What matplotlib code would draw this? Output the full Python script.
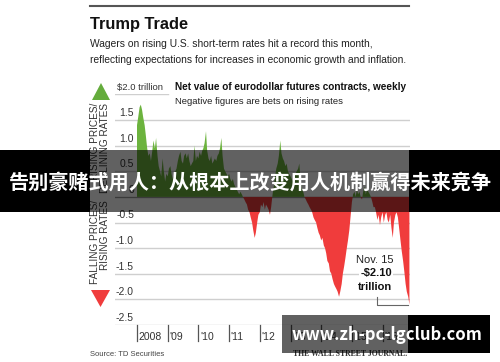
import numpy as np
import pandas as pd
import matplotlib
matplotlib.use('Agg')
import matplotlib.pyplot as plt
import matplotlib.dates as mdates
import matplotlib.transforms as mtransforms
from matplotlib.patches import Polygon, Rectangle
from matplotlib.lines import Line2D

plt.rcParams['font.family'] = ['Liberation Sans', 'DejaVu Sans']

# net value of eurodollar futures contracts, $ trillion (1st/15th of month)
y2008 = [1.4, 1.55, 1.75, 1.8, 1.7, 1.55, 1.4, 1.2, 0.95, 0.8, 0.85, 0.7,
         0.9, 1.1, 0.95, 1.15, 0.8, 0.6, 0.5, 0.4, 0.75, 0.5, 0.3, 0.45]
y2009 = [0.4, 0.55, 0.6, 0.45, 0.35, 0.4, 0.5, 0.55, 0.7, 0.8, 0.88, 0.7,
         0.65, 0.8, 0.85, 0.75, 0.85, 0.7, 0.6, 0.65, 0.7, 1.0, 0.7, 0.8]
y2010 = [0.75, 0.88, 0.8, 0.9, 0.95, 1.05, 1.28, 0.9, 0.75, 0.7, 0.8, 0.65,
         0.7, 0.75, 0.7, 0.8, 0.85, 0.95, 1.15, 0.8, 0.55, 0.5, 0.45, 0.4]
y2011 = [0.45, 0.35, 0.3, 0.35, 0.25, 0.2, 0.15, 0.1, 0.05, 0.1, 0.05, 0.0,
         -0.05, -0.1, -0.15, -0.25, -0.3, -0.4, -0.5, -0.65, -0.8, -0.7, -0.5, -0.35]
y2012 = [-0.3, -0.15, -0.2, -0.1, -0.25, -0.15, -0.2, -0.25, -0.35, -0.2, 0.05, 0.2,
         0.4, 0.55, 0.65, 0.8, 1.1, 0.85, 0.75, 0.7, 0.6, 0.65, 0.5, 0.45]
y2013 = [0.4, 0.35, 0.3, 0.4, 0.45, 0.5, 0.55, 0.65, 0.3, 0.15, 0.1, 0.0,
         -0.05, -0.1, -0.15, -0.2, -0.25, -0.3, -0.4, -0.45, -0.5, -0.6, -0.7, -0.75]
y2014 = [-0.85, -0.8, -0.95, -1.0, -1.1, -1.25, -1.3, -1.45, -1.5, -1.6, -1.7, -1.75,
         -1.8, -1.85, -1.95, -1.85, -1.7, -1.5, -1.35, -1.2, -1.0, -0.85, -0.65, -0.4]
y2015 = [-0.1, 0.05, 0.1, 0.0, 0.15, 0.05, 0.1, 0.0, -0.05, 0.1, 0.2, 0.05,
         0.15, 0.1, 0.05, 0.0, -0.1, -0.2, -0.2, -0.3, -0.45, -0.35, -0.55, -0.4]
y2016 = [-0.3, -0.5, -0.35, -0.3, -0.45, -0.5, -0.35, -0.6, -0.8, -0.5, -0.35,
         -0.3, -0.4, -0.6, -0.85, -1.05, -1.25, -1.45, -1.7, -1.85, -1.95, -2.1]

year_labels = ['2008', "'09", "'10", "'11", "'12", "'13", "'14", "'15", "'16"]
ytick_vals = [1.5, 1.0, 0.5, 0, -0.5, -1.0, -1.5, -2.0, -2.5]
ytick_labels = ['1.5', '1.0', '0.5', '0', '-0.5', '-1.0', '-1.5', '-2.0', '-2.5']

values = np.array(y2008 + y2009 + y2010 + y2011 + y2012 + y2013 + y2014 + y2015 + y2016)
dates = pd.date_range('2008-01-01', '2016-11-15', freq='SMS')
xs = mdates.date2num(dates.to_pydatetime())

GREEN = '#6cb33e'
RED = '#f03c3c'
GRID = '#cfcfcf'

W, H = 500, 362
def fx(x):
    return x / W
def fy(y):
    return 1 - y / H

fig = plt.figure(figsize=(5.0, 3.62), dpi=100)

# chart area
ax = fig.add_axes([fx(115), fy(325), fx(410) - fx(115), fy(94.4) - fy(325)])
px_per_year = 30.7
x0 = mdates.date2num(pd.Timestamp('2008-01-01'))
ax.set_xlim(x0 - 22 / px_per_year * 365.25, x0 + 273 / px_per_year * 365.25)
ax.set_ylim(-2.5, 2.0)
ax.axis('off')

for v in ytick_vals:
    ax.axhline(v, color=GRID, lw=1.0, zorder=1)
ax.axhline(0, color='#999999', lw=0.8, zorder=1)
ax.axhline(2.0, xmin=0, xmax=(168 - 115) / 295, color=GRID, lw=1.0)

ax.fill_between(xs, values, 0, where=values >= 0, interpolate=True,
                color=GREEN, lw=0, zorder=2)
ax.fill_between(xs, values, 0, where=values <= 0, interpolate=True,
                color=RED, lw=0, zorder=2)

# y labels sit above the gridlines
ytrans = mtransforms.offset_copy(ax.get_yaxis_transform(), fig=fig, y=1.5, units='points')
for v, lab in zip(ytick_vals, ytick_labels):
    ax.text((134 - 115) / 295, v, lab, transform=ytrans, ha='right', va='bottom',
            fontsize=7.5, color='#333333')
ax.text(0.006, 2.0, '$2.0 trillion', transform=ytrans, ha='left', va='bottom',
        fontsize=6.8, color='#333333')

# year ticks below the axis
xtrans = ax.get_xaxis_transform()
for i, lab in enumerate(year_labels):
    t = mdates.date2num(pd.Timestamp(2008 + i, 1, 1))
    ax.plot([t, t], [0, -0.07], transform=xtrans, color='#555555', lw=0.9, clip_on=False)
    ax.text(t + 20, -0.052, lab, transform=xtrans, ha='left', va='center',
            fontsize=7.5, color='#333333')

# header
fig.add_artist(Line2D([fx(90), fx(409)], [fy(6), fy(6)], color='#555555', lw=1.5))
fig.text(fx(90), fy(25), 'Trump Trade', fontsize=11.8, fontweight='bold', va='center', color='#111111')
fig.text(fx(90), fy(44), 'Wagers on rising U.S. short-term rates hit a record this month,',
         fontsize=7.4, va='center', color='#222222')
fig.text(fx(90), fy(60), 'reflecting expectations for increases in economic growth and inflation.',
         fontsize=7.4, va='center', color='#222222')
fig.text(fx(175), fy(87), 'Net value of eurodollar futures contracts, weekly',
         fontsize=7.2, fontweight='bold', va='center', color='#111111')
fig.text(fx(175), fy(101), 'Negative figures are bets on rising rates',
         fontsize=6.8, va='center', color='#222222')

# direction markers
fig.add_artist(Polygon([(fx(92), fy(100)), (fx(110), fy(100)), (fx(101), fy(83))],
                       closed=True, transform=fig.transFigure, color='#64ac3c', lw=0))
fig.add_artist(Polygon([(fx(91), fy(290)), (fx(110), fy(290)), (fx(100.5), fy(307))],
                       closed=True, transform=fig.transFigure, color=RED, lw=0))
fig.text(fx(100), fy(103), 'RISING PRICES/\nDECLINING RATES', rotation=90, ha='center', va='top',
         multialignment='right', fontsize=7.2, color='#333333', linespacing=1.0)
fig.text(fx(100), fy(200), 'FALLING PRICES/\nRISING RATES', rotation=90, ha='center', va='top',
         multialignment='right', fontsize=7.2, color='#333333', linespacing=1.0)

# annotation for the latest value
box = dict(facecolor='white', edgecolor='none', pad=1.0)
fig.text(fx(375), fy(260), 'Nov. 15', ha='center', va='center', fontsize=8, color='#222222', bbox=box)
fig.text(fx(376), fy(273), '-$2.10', ha='center', va='center', fontsize=8, fontweight='bold',
         color='#111111', bbox=box)
fig.text(fx(375), fy(287), 'trillion', ha='center', va='center', fontsize=8, fontweight='bold',
         color='#111111', bbox=box)
fig.add_artist(Line2D([fx(377), fx(377), fx(408)], [fy(297), fy(305), fy(305)],
                      color='#666666', lw=0.8))

# footer
fig.text(fx(90), fy(354), 'Source: TD Securities', fontsize=5.5, va='center', color='#444444')
fig.text(fx(293), fy(354), 'THE WALL STREET JOURNAL.', fontsize=5.6, va='center',
         family=['Liberation Serif', 'DejaVu Serif'], fontweight='bold', color='#333333')

# overlay banner
for x1, x2, a in [(0, 90, 1.0), (90, 409, 0.62), (409, 500, 1.0)]:
    fig.add_artist(Rectangle((fx(x1), fy(212)), fx(x2) - fx(x1), fy(150) - fy(212),
                             transform=fig.transFigure, color='black', alpha=a, lw=0, zorder=10))
fig.text(0.5, fy(182.5), '告别豪赌式用人：从根本上改变用人机制赢得未来竞争', ha='center', va='center',
         fontsize=14.5, fontweight='bold', color='white', zorder=11,
         family=['Noto Sans CJK SC', 'DejaVu Sans'])

# watermark
for x1, x2, a in [(282, 408, 0.62), (408, 490, 1.0)]:
    fig.add_artist(Rectangle((fx(x1), fy(353)), fx(x2) - fx(x1), fy(315) - fy(353),
                             transform=fig.transFigure, color='black', alpha=a, lw=0, zorder=10))
fig.text(fx(386.5), fy(335), 'www.zh-pc-lgclub.com', ha='center', va='center',
         fontsize=12, fontweight='bold', color='white', zorder=11,
         family=['Noto Sans CJK SC', 'DejaVu Sans'])

fig.savefig('out.png', dpi=100)
